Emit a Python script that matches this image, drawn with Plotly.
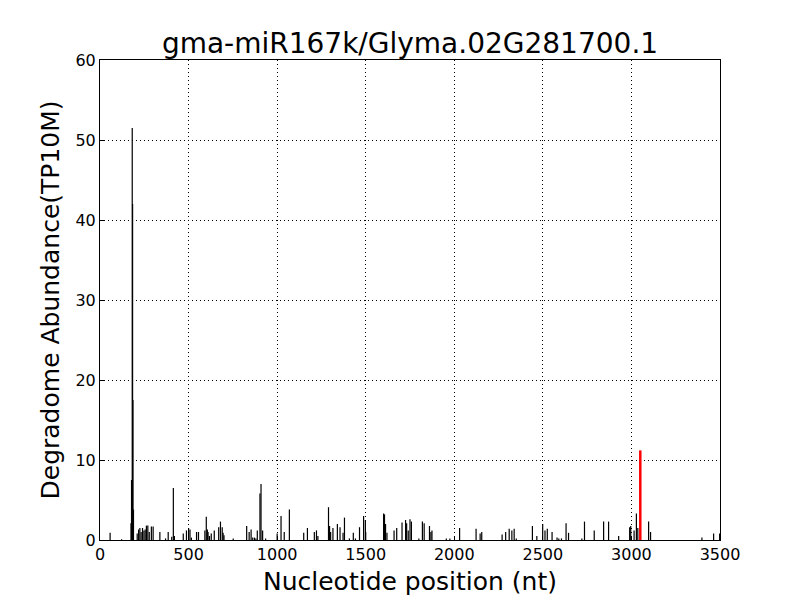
import plotly.graph_objects as go

title = "gma-miR167k/Glyma.02G281700.1"
x_label = "Nucleotide position (nt)"
y_label = "Degradome Abundance(TP10M)"

positions = [57, 122, 175, 178, 182, 184, 186, 189, 210, 218, 225, 232, 240, 248, 255, 262, 270, 278, 290, 300,
             338, 370, 385, 405, 414, 420, 470, 488, 500, 508, 516, 545, 556, 592, 600, 606, 610, 618, 628, 645,
             670, 680, 690, 695, 700, 752, 828, 842, 853, 862, 872, 880, 888, 903, 909, 918, 935, 1000, 1022,
             1040, 1069, 1150, 1171, 1210, 1222, 1230, 1290, 1296, 1302, 1315, 1340, 1355, 1372, 1380, 1408,
             1430, 1442, 1465, 1488, 1498, 1500, 1601, 1606, 1612, 1620, 1660, 1675, 1705, 1725, 1731, 1740,
             1750, 1758, 1800, 1820, 1830, 1860, 1868, 1874, 1955, 1975, 2030, 2123, 2146, 2155, 2270, 2290,
             2310, 2325, 2338, 2350, 2441, 2466, 2499, 2512, 2525, 2552, 2580, 2590, 2605, 2631, 2645, 2720,
             2735, 2790, 2843, 2871, 2928, 2990, 2996, 3015, 3028, 3036, 3097, 3108, 3398, 3464, 3498]
values = [0.9, 0.1, 2.1, 7.5, 51.5, 42.0, 17.5, 3.8, 0.8, 1.3, 1.5, 1.0, 1.5, 1.2, 1.3, 1.8, 1.8, 1.0, 1.7, 1.7,
          1.0, 0.2, 1.0, 0.4, 6.5, 0.5, 0.8, 1.2, 1.5, 1.3, 0.3, 1.0, 1.0, 1.2, 2.9, 1.3, 1.0, 0.5, 0.8, 1.2,
          1.6, 2.3, 1.6, 0.9, 0.6, 0.2, 1.75, 1.0, 1.3, 0.3, 0.3, 0.2, 1.2, 5.8, 7.0, 1.2, 0.2, 0.8, 3.0,
          1.0, 3.8, 0.9, 1.5, 1.0, 1.2, 0.5, 4.1, 1.75, 1.0, 1.5, 2.0, 1.6, 0.9, 2.8, 0.2, 0.9, 0.2, 1.6,
          3.0, 2.5, 1.0, 3.3, 3.2, 2.0, 0.9, 1.2, 1.5, 2.2, 2.5, 2.1, 1.2, 2.6, 2.3, 0.2, 2.3, 2.1, 1.75,
          1.0, 1.2, 0.2, 0.2, 1.5, 1.4, 0.8, 1.0, 0.7, 1.0, 1.4, 1.2, 1.4, 0.2, 1.75, 0.5, 2.0, 1.2, 1.4,
          1.0, 0.3, 0.2, 0.2, 2.1, 0.9, 0.2, 2.3, 1.2, 2.3, 2.3, 0.5, 1.6, 1.75, 1.2, 3.3, 1.5, 2.3, 1.0,
          0.3, 0.8, 0.8]

target_position = 3050
target_value = 11.2

x_ticks = [0, 500, 1000, 1500, 2000, 2500, 3000, 3500]
y_ticks = [0, 10, 20, 30, 40, 50, 60]

seg_x, seg_y = [], []
for p, v in zip(positions, values):
    seg_x += [p, p, None]
    seg_y += [0, v, None]

fig = go.Figure()
fig.add_trace(go.Scatter(x=seg_x, y=seg_y, mode="lines",
                         line=dict(color="black", width=1.2), hoverinfo="skip", showlegend=False))
fig.add_trace(go.Scatter(x=[target_position, target_position], y=[0, target_value], mode="lines",
                         line=dict(color="#ff0000", width=2.5), showlegend=False))

font_family = "DejaVu Sans, Liberation Sans, sans-serif"
grid_style = dict(showgrid=True, gridcolor="black", griddash="1px,3px", gridwidth=1,
                  showline=True, linecolor="black", linewidth=1, mirror=True,
                  ticks="inside", ticklen=4, tickcolor="black", zeroline=False,
                  tickfont=dict(size=16))
fig.update_layout(
    width=800, height=600,
    paper_bgcolor="white", plot_bgcolor="white",
    margin=dict(l=92, r=88, t=52, b=68),
    font=dict(family=font_family, color="black", size=16),
    title=dict(text=title, x=(410 - 8) / 800, xanchor="center", y=1 - (43 - 8) / 600, yanchor="middle",
               font=dict(size=28, family=font_family, color="black")),
    xaxis=dict(range=[0, 3500], tickvals=x_ticks, ticktext=[str(t) for t in x_ticks],
               title=dict(text=x_label, font=dict(size=25), standoff=9), **grid_style),
    yaxis=dict(range=[0, 60], tickvals=y_ticks, ticktext=[str(t) for t in y_ticks],
               title=dict(text=y_label, font=dict(size=25), standoff=8), **grid_style),
)

fig.write_html("out.html")
